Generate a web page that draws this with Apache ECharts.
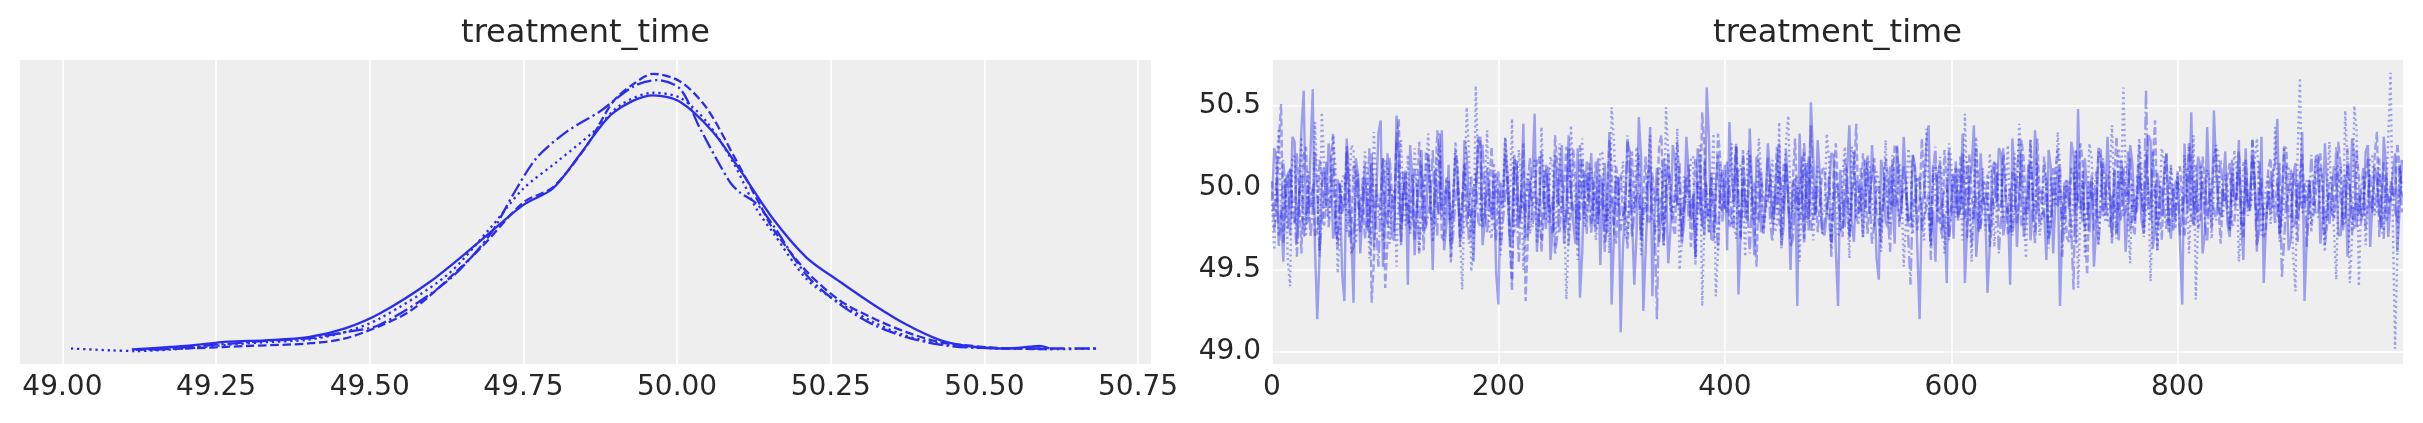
<!DOCTYPE html>
<html><head><meta charset="utf-8">
<script src="https://cdn.jsdelivr.net/npm/echarts@6/dist/echarts.min.js"></script>
<style>html,body{margin:0;padding:0;background:#fff}#c{width:2423px;height:423px}</style>
</head><body><div id="c"></div>
<script>
const varName = 'treatment_time';
const kdeTicks = [49.00, 49.25, 49.50, 49.75, 50.00, 50.25, 50.50, 50.75];
const traceXTicks = [0, 200, 400, 600, 800];
const traceYTicks = [49.0, 49.5, 50.0, 50.5];

// KDE curves per chain (x = treatment_time, y = density)
const kdeX0 = [49.113,49.20,49.27,49.33,49.40,49.46,49.517,49.598,49.679,49.750,49.798,49.842,49.896,49.961,50.004,50.058,50.102,50.156,50.211,50.265,50.319,50.373,50.428,50.482,50.536,50.575,50.590,50.606];
const kdeY0 = [0.013,0.04,0.074,0.085,0.11,0.18,0.30,0.55,0.87,1.16,1.29,1.56,1.89,2.03,1.98,1.74,1.44,1.05,0.74,0.55,0.37,0.21,0.087,0.034,0.02,0.035,0.04,0.02];
const kdeX1 = [49.12,49.20,49.30,49.40,49.46,49.517,49.56,49.598,49.679,49.750,49.798,49.853,49.896,49.929,49.961,50.005,50.048,50.091,50.135,50.156,50.211,50.265,50.319,50.373,50.428,50.482,50.536,50.61];
const kdeY1 = [0.01,0.02,0.04,0.06,0.10,0.20,0.30,0.44,0.81,1.18,1.30,1.63,1.98,2.12,2.20,2.14,1.93,1.56,1.16,0.97,0.63,0.40,0.26,0.15,0.07,0.04,0.02,0.015];
const kdeX2 = [49.014,49.08,49.12,49.20,49.27,49.33,49.40,49.46,49.517,49.625,49.695,49.750,49.804,49.864,49.907,49.961,50.005,50.048,50.091,50.129,50.156,50.211,50.265,50.319,50.373,50.428,50.482,50.55,50.62,50.686];
const kdeY2 = [0.02,0.005,0.0,0.02,0.05,0.07,0.09,0.15,0.26,0.60,0.97,1.29,1.50,1.74,1.95,2.05,2.01,1.82,1.50,1.13,0.94,0.57,0.38,0.23,0.12,0.06,0.03,0.02,0.015,0.02];
const kdeX3 = [49.15,49.25,49.33,49.40,49.46,49.517,49.625,49.695,49.733,49.771,49.820,49.874,49.929,49.967,50.005,50.037,50.086,50.102,50.129,50.156,50.211,50.265,50.319,50.373,50.428,50.482,50.59,50.686];
const kdeY3 = [0.01,0.05,0.08,0.10,0.15,0.21,0.55,0.92,1.24,1.53,1.74,1.90,2.10,2.15,2.08,1.77,1.34,1.26,1.17,1.00,0.60,0.37,0.21,0.11,0.05,0.026,0.02,0.02];

// Trace values per chain, read/.
// traceNa: draws 0,4,8,...,996   traceNb: draws 2,6,10,...,998
const trace0a = [
49.92,50.18,49.85,50.05,49.71,50.28,49.96,50.59,49.80,50.60,
49.20,50.02,49.90,50.12,49.78,49.99,49.31,50.04,49.30,50.08,
49.87,49.74,50.15,49.93,50.41,49.82,50.00,49.68,50.19,49.95,
49.41,50.06,49.89,50.23,49.76,49.97,50.11,49.84,49.62,50.14,
49.91,50.03,49.73,50.20,49.86,49.99,50.31,49.80,49.94,50.09,
49.29,49.88,50.07,49.79,50.16,49.92,49.70,50.04,50.45,49.85,
49.98,50.13,49.77,49.90,50.26,49.83,50.01,49.66,49.33,50.10,
49.94,49.81,50.18,49.97,49.72,49.29,50.06,49.12,49.89,50.22,
49.41,50.43,49.25,49.95,49.34,50.12,49.86,50.03,49.75,50.17,
49.90,49.78,50.09,49.96,50.24,49.82,50.61,49.69,50.00,49.88,
50.14,50.40,49.92,49.35,50.05,49.80,49.99,50.19,49.73,49.91,
50.08,49.85,50.27,49.77,49.96,50.02,49.28,49.94,50.15,50.52,
49.83,50.06,49.71,49.98,50.20,49.28,49.90,50.11,49.79,50.04,
49.93,50.17,49.84,50.00,49.44,50.09,49.76,49.95,50.25,49.87,
50.02,49.81,50.13,49.20,49.97,50.38,49.86,50.07,49.74,49.42,
49.99,50.16,49.88,49.42,50.04,50.38,49.78,49.95,49.36,50.10,
49.91,50.21,49.82,49.41,50.06,49.97,49.70,50.14,49.89,50.01,
49.84,49.56,50.12,49.93,49.28,50.03,49.87,50.19,50.48,49.79,
49.96,50.08,49.75,50.23,49.90,49.98,50.11,49.68,50.05,49.86,
50.15,49.92,49.80,50.02,50.29,49.77,49.99,50.09,49.83,49.94,
50.06,49.29,49.91,50.46,49.85,50.13,49.72,49.97,50.47,49.88,
50.01,49.78,50.17,49.93,49.81,50.24,49.96,50.07,49.74,49.42,
49.98,50.10,50.42,49.87,50.03,49.69,50.15,49.92,49.31,50.05,
49.89,50.20,49.80,50.00,49.94,50.12,49.71,50.08,49.85,50.18,
49.97,49.83,50.26,49.90,50.04,49.76,50.13,49.92,50.21,49.88];
const trace0b = [
50.24,49.71,49.55,50.08,50.31,49.66,50.36,49.78,50.22,49.62,
49.58,50.12,50.27,49.69,50.05,49.47,50.30,49.73,50.18,49.60,
50.15,49.80,49.64,50.33,49.52,50.21,49.70,50.44,49.67,50.09,
50.26,49.59,50.02,49.74,50.19,49.50,49.88,50.35,49.77,49.63,
50.20,49.69,50.29,49.83,49.55,50.25,49.65,50.12,49.81,49.48,
50.03,50.30,49.68,50.17,49.76,50.39,49.72,50.07,49.61,50.22,
49.75,49.56,50.20,50.09,49.66,50.32,49.79,50.24,49.60,50.04,
50.21,49.74,49.53,50.15,50.34,49.70,50.06,49.64,50.28,49.82,
49.72,50.19,49.61,50.37,49.84,49.67,50.18,49.54,50.26,49.90,
49.66,50.31,49.80,49.58,50.14,49.71,50.29,49.68,50.20,49.85,
49.62,50.06,50.25,49.73,49.83,50.36,49.59,50.16,49.77,50.27,
49.78,50.14,49.65,50.23,49.50,50.05,50.33,49.69,49.81,50.19,
50.29,49.73,49.84,50.21,49.62,50.11,49.76,50.38,49.67,50.02,
49.70,50.08,50.26,49.57,50.17,49.79,50.13,49.66,50.07,50.31,
49.80,50.20,49.63,49.89,50.27,49.72,49.55,50.15,49.84,50.23,
49.69,49.82,50.33,49.75,50.12,49.58,50.21,49.88,49.65,50.16,
50.24,49.71,49.90,50.30,49.64,50.19,49.81,49.68,50.35,49.78,
49.86,50.23,49.60,50.11,49.74,50.04,50.28,49.66,49.93,50.18,
49.73,49.52,50.24,49.85,50.31,49.70,49.92,50.17,49.61,50.26,
49.80,50.15,49.72,50.32,49.63,50.09,49.83,50.21,49.69,50.03,
49.67,50.27,49.86,49.77,50.19,49.60,50.37,49.75,50.10,49.82,
50.22,49.70,49.94,50.29,49.56,49.88,50.18,49.65,50.31,49.79,
49.84,50.14,49.72,50.24,49.62,50.07,49.81,50.34,49.69,49.93,
50.19,49.66,50.27,49.78,50.13,49.71,49.97,49.58,50.30,49.76,
49.83,50.22,49.64,50.12,49.85,50.31,49.70,50.09,49.61,50.17];
const trace1a = [
50.04,49.88,50.51,49.93,50.12,49.79,49.97,50.20,49.85,50.01,
49.74,50.09,49.92,50.16,49.83,50.03,49.95,49.70,50.13,49.90,
50.06,49.81,49.30,50.02,49.94,49.39,50.18,49.87,50.42,49.96,
49.78,50.08,49.91,50.00,50.22,49.84,49.97,50.11,49.68,50.05,
49.89,50.14,49.95,49.76,50.07,49.93,50.28,49.86,50.02,49.80,
50.10,49.92,49.99,49.37,50.15,49.88,49.31,50.04,49.96,50.19,
49.83,50.01,49.72,50.12,49.94,50.25,49.87,50.06,49.79,49.98,
50.16,49.90,49.82,50.03,49.95,50.13,49.66,50.08,49.92,50.00,
49.85,50.20,49.97,49.78,50.09,49.93,50.32,49.88,50.04,49.71,
50.02,49.94,50.14,49.86,49.99,50.46,49.81,50.07,49.90,50.17,
49.96,49.77,50.05,49.92,50.23,49.84,50.00,49.52,50.11,49.89,
50.08,49.95,49.80,50.15,49.91,50.03,49.86,50.19,49.97,49.74,
50.01,49.90,50.12,49.83,50.06,49.98,49.70,50.09,49.94,50.39,
49.85,50.04,49.92,50.18,49.79,49.96,50.07,49.88,50.26,49.93,
50.00,49.76,50.10,49.91,50.02,49.84,50.15,49.97,49.69,50.05,
49.93,50.12,49.87,49.99,50.21,49.81,50.03,49.95,50.08,49.78,
50.14,49.90,50.00,49.72,50.06,49.94,50.17,49.86,49.98,50.30,
49.89,50.03,49.80,50.11,49.95,50.01,49.67,50.09,49.92,50.16,
49.47,50.05,49.91,50.19,49.84,49.97,50.07,49.88,50.13,49.94,
49.79,50.02,49.95,50.22,49.87,50.41,49.90,50.06,49.73,50.00,
50.10,49.93,49.85,50.14,49.98,49.81,50.04,49.96,50.20,49.88,
49.99,50.08,49.77,50.01,49.92,50.17,49.86,50.03,49.95,49.70,
50.12,49.89,50.05,49.94,50.24,49.82,49.99,50.09,49.91,50.02,
49.84,50.15,49.96,49.78,50.07,49.93,50.11,49.87,50.00,49.75,
50.06,49.92,50.18,49.85,50.34,49.97,49.80,50.04,49.94,50.13];
const trace1b = [
49.74,50.27,49.66,50.08,49.80,50.21,49.60,50.25,49.89,49.70,
50.17,49.77,49.90,50.33,49.63,49.84,50.22,49.71,50.13,49.82,
49.69,50.24,49.56,49.88,50.18,49.67,49.95,50.30,49.75,50.11,
49.83,49.68,50.28,49.62,50.19,49.79,50.35,49.70,50.06,49.80,
50.23,49.64,50.14,49.87,49.72,50.31,49.76,49.97,50.25,49.68,
49.90,50.20,49.67,50.12,49.81,50.27,49.71,49.88,50.16,49.61,
50.14,49.79,50.32,49.73,49.96,49.65,50.24,49.83,50.18,49.72,
49.78,50.16,49.88,49.66,50.29,49.74,50.05,49.82,49.63,50.22,
50.07,49.71,50.19,49.80,49.92,50.26,49.69,50.13,49.77,50.28,
49.70,49.95,49.64,50.18,49.84,50.23,49.87,49.73,50.33,49.79,
50.16,49.76,50.27,49.68,49.93,50.20,49.80,50.09,49.72,49.91,
49.82,50.25,49.70,50.14,49.75,50.30,49.90,49.66,50.19,49.81,
49.73,50.11,49.86,49.63,50.27,49.77,50.17,49.71,50.04,49.84,
50.21,49.72,50.08,49.85,49.67,50.18,49.92,50.26,49.76,49.97,
49.80,50.20,49.74,50.30,49.87,49.65,50.14,49.79,50.23,49.70,
50.09,49.83,50.21,49.69,49.95,50.25,49.75,49.90,49.64,50.15,
49.86,50.24,49.72,50.10,49.78,50.29,49.84,50.17,49.73,49.96,
50.19,49.67,49.92,50.24,49.81,49.70,50.12,49.88,50.27,49.76,
49.94,49.74,50.22,49.83,50.08,49.66,50.31,49.80,49.95,50.18,
49.71,50.26,49.85,49.98,50.16,49.77,49.68,50.21,49.90,49.79,
50.13,49.70,50.28,49.88,49.75,50.19,49.82,49.97,50.24,49.66,
49.91,50.15,49.78,50.22,49.69,49.93,50.30,49.80,50.06,49.74,
50.18,49.86,49.71,50.25,49.83,50.09,49.67,50.20,49.92,49.78,
49.96,50.21,49.65,50.04,49.81,50.28,49.74,50.14,49.88,50.23,
49.78,50.06,49.89,50.20,49.70,50.16,49.83,49.96,50.27,49.85];
const trace2a = [
49.90,50.14,49.82,50.06,49.40,50.19,49.93,49.77,50.10,49.88,
50.02,50.46,49.85,49.97,50.13,49.71,50.08,49.91,50.24,49.80,
49.96,50.11,49.74,50.03,49.89,50.17,49.66,49.99,50.07,49.84,
50.20,49.92,50.01,49.78,50.12,49.95,49.87,50.26,49.81,50.04,
49.93,50.09,49.38,50.49,49.49,50.62,49.86,50.02,49.75,50.15,
49.90,49.99,50.11,50.42,49.83,50.06,49.94,49.72,50.18,49.88,
50.03,49.79,50.13,49.97,49.85,49.32,50.38,49.91,50.05,49.76,
50.10,49.95,49.82,50.21,49.93,50.49,49.87,50.00,49.69,50.08,
49.92,50.16,49.80,50.04,49.96,49.74,50.12,50.49,49.85,49.99,
49.50,50.07,49.91,50.19,49.83,49.28,50.02,49.95,49.34,50.14,
49.88,50.05,49.77,50.10,49.94,50.23,49.81,49.98,50.09,49.86,
50.01,49.73,50.40,49.92,50.44,49.85,50.06,49.97,49.79,50.15,
49.90,50.03,49.84,50.18,49.96,49.70,50.08,49.93,50.25,49.82,
50.00,49.89,50.12,49.76,50.05,49.95,49.87,50.20,49.91,50.02,
49.80,50.14,49.93,50.07,49.68,49.99,50.11,49.85,50.03,49.94,
50.17,49.82,49.97,50.45,49.88,50.04,49.75,50.12,49.92,50.00,
49.86,50.09,49.95,49.78,50.21,50.39,49.84,50.02,49.93,50.15,
49.81,49.98,50.07,49.90,50.13,49.72,50.04,49.95,49.39,50.10,
49.87,50.18,49.94,50.01,49.79,50.08,49.92,50.24,50.61,49.83,
50.05,49.96,50.12,49.88,49.43,50.03,49.91,50.16,49.77,49.99,
50.09,49.85,50.02,49.94,49.32,50.14,49.89,50.06,49.97,50.20,
49.82,50.00,49.93,50.11,49.76,50.04,49.88,50.17,49.95,49.84,
50.08,49.91,50.02,49.79,50.13,49.96,49.37,50.67,49.86,50.05,
49.94,50.10,49.83,50.01,49.90,49.44,50.15,50.47,49.42,50.50,
49.40,50.08,49.91,50.19,49.86,50.03,49.95,50.70,49.02,50.12];
const trace2b = [
49.62,50.36,49.88,49.55,50.19,49.76,50.31,49.70,49.97,50.40,
49.58,50.15,49.81,50.32,49.48,50.06,49.73,50.26,49.66,49.93,
50.22,49.57,50.34,49.80,49.68,50.12,49.91,49.52,50.29,49.77,
49.71,50.24,49.61,49.99,50.33,49.67,50.17,49.82,50.05,49.54,
50.28,49.75,49.92,50.21,49.63,50.14,49.79,50.35,49.69,49.98,
49.59,50.31,49.86,49.72,50.23,49.50,50.10,49.90,49.66,50.37,
49.80,50.19,49.64,50.27,49.87,49.71,50.08,49.56,50.30,49.83,
50.12,49.68,50.22,49.78,49.60,50.29,49.94,50.16,49.70,49.85,
50.25,49.59,49.97,50.32,49.74,50.11,49.65,50.20,49.86,50.36,
49.67,49.90,50.18,49.53,50.26,49.81,49.72,50.33,49.62,50.03,
49.85,50.27,49.69,50.14,49.58,50.21,49.83,50.30,49.71,49.96,
50.17,49.76,49.63,50.28,49.89,50.07,49.55,50.22,49.80,49.68,
50.13,49.84,50.33,49.66,50.02,49.75,50.25,49.57,50.18,49.87,
49.70,50.20,49.92,50.10,49.61,50.29,49.78,49.99,50.15,49.52,
50.24,49.72,50.06,49.83,50.36,49.65,49.91,50.19,49.60,50.27,
49.85,50.12,49.68,50.01,49.55,50.31,49.88,49.74,50.21,49.64,
50.09,49.79,50.26,49.73,49.96,50.17,49.57,50.29,49.86,49.71,
50.14,49.63,49.92,50.34,49.77,50.05,49.69,50.22,49.84,49.58,
50.27,49.88,49.66,50.15,49.82,50.38,49.72,49.98,50.10,49.54,
49.80,50.30,49.70,50.03,49.89,49.62,50.24,49.85,50.12,49.75,
49.93,50.20,49.60,50.32,49.79,49.98,50.11,49.69,50.26,49.84,
50.08,49.74,50.23,49.55,50.16,49.83,49.95,50.30,49.71,50.02,
49.78,50.37,49.67,49.92,50.13,49.58,50.24,49.85,50.05,49.73,
50.18,49.87,49.61,50.28,49.75,50.00,49.81,50.14,49.69,50.35,
49.91,49.65,50.19,49.83,50.09,49.74,50.31,49.79,49.59,50.02];
const trace3a = [
49.86,50.05,49.78,49.95,50.12,49.82,49.93,49.70,50.02,49.88,
49.97,49.80,50.16,49.91,49.75,50.03,49.87,49.98,49.64,50.08,
49.84,49.95,50.21,49.79,49.92,49.86,50.01,49.73,49.96,50.10,
49.90,49.81,49.99,50.14,49.77,49.93,49.85,50.34,49.88,49.97,
49.72,50.04,49.89,49.96,49.83,50.09,49.76,49.92,50.00,49.85,
49.94,49.80,50.07,49.43,49.91,49.98,49.82,50.18,49.87,49.76,
50.02,49.89,49.95,49.71,50.11,49.84,49.97,49.90,50.26,49.81,
49.93,50.05,49.78,49.99,49.86,49.94,50.13,49.74,49.88,50.01,
49.83,49.96,49.90,50.08,49.79,49.20,49.92,50.04,49.85,49.97,
50.15,49.87,49.80,49.95,50.03,49.75,49.91,50.09,49.84,49.98,
49.89,50.02,49.77,49.93,50.20,49.86,49.96,49.81,50.06,49.90,
49.79,49.97,50.11,49.85,49.92,49.69,50.00,49.88,49.95,50.38,
49.84,49.93,49.80,50.07,49.89,49.98,49.75,50.03,49.91,49.82,
50.12,49.87,49.95,49.78,50.01,49.90,49.84,50.16,49.93,49.86,
49.99,49.41,49.88,50.05,49.83,49.96,50.09,49.79,49.92,50.02,
49.86,49.94,50.19,49.81,49.97,49.88,49.73,50.04,49.90,49.96,
50.08,49.82,49.93,50.00,49.87,50.30,49.79,49.95,49.84,49.91,
49.98,50.06,49.77,49.92,50.13,49.85,49.96,49.38,49.89,50.03,
49.81,49.94,50.10,49.87,49.99,49.76,49.91,50.05,49.83,50.22,
49.90,49.85,49.97,50.60,49.80,49.93,50.01,49.86,49.95,49.74,
50.07,49.88,49.96,49.82,50.14,49.91,49.79,49.98,49.87,50.02,
49.93,49.84,50.09,49.95,49.78,50.04,49.89,49.97,50.17,49.83,
49.91,50.00,49.86,49.45,49.94,50.11,49.80,49.92,50.03,49.88,
49.97,49.82,50.06,49.90,49.85,50.25,49.93,49.78,50.01,49.89,
49.84,50.12,49.95,49.87,49.99,49.76,50.08,49.92,49.86,50.15];
const trace3b = [
49.87,49.64,50.17,49.75,49.93,49.58,50.08,49.82,49.70,50.22,
49.61,49.92,49.76,50.14,49.67,49.86,50.26,49.60,49.99,49.73,
50.06,49.69,49.88,49.52,50.18,49.78,49.94,50.30,49.65,49.89,
49.74,50.11,49.60,49.96,49.83,50.23,49.71,49.87,50.02,49.57,
49.92,49.77,50.15,49.66,49.98,49.80,50.27,49.72,49.85,50.09,
49.63,49.95,49.79,50.20,49.55,49.90,50.05,49.76,49.94,49.68,
50.12,49.83,49.59,49.99,49.74,50.24,49.86,49.66,49.95,50.16,
49.72,49.91,50.08,49.61,49.87,49.77,50.01,49.83,50.32,49.70,
49.97,49.68,49.85,50.13,49.78,49.94,49.64,50.21,49.81,49.89,
49.75,50.07,49.90,49.57,49.99,50.17,49.73,49.88,49.62,50.11,
49.85,49.76,50.26,49.70,49.93,49.60,50.03,49.79,49.96,50.19,
49.67,49.87,49.99,50.15,49.64,49.92,49.81,50.28,49.74,49.89,
50.01,49.72,49.85,49.58,50.10,49.83,49.95,49.69,50.22,49.78,
49.91,50.18,49.66,49.97,49.76,50.07,49.61,49.88,49.80,50.14,
49.70,49.93,50.05,49.74,49.87,49.56,50.25,49.82,49.98,49.68,
50.08,49.80,49.91,50.16,49.64,49.95,49.78,50.02,49.72,49.87,
49.60,50.20,49.84,49.71,50.06,49.77,49.93,50.30,49.66,49.97,
49.82,49.70,50.12,49.89,49.58,50.01,49.74,50.23,49.86,49.76,
50.04,49.90,49.65,50.18,49.81,49.96,49.69,50.10,49.85,49.73,
49.93,50.08,49.76,49.87,50.22,49.62,49.99,49.75,50.14,49.88,
49.71,49.95,50.25,49.78,49.85,50.04,49.67,49.91,49.80,50.17,
49.97,49.73,49.89,50.11,49.77,49.86,50.29,49.61,49.93,49.83,
50.06,49.78,50.15,49.68,49.95,49.75,50.03,49.88,49.64,50.20,
49.84,50.12,49.71,49.97,49.82,50.06,49.77,50.24,49.72,49.91,
49.98,49.75,50.08,49.86,50.18,49.69,49.92,50.01,49.79,49.94];

const drawStep = 4;   // spacing of the "a" draws; "b" draws sit halfway between

const COLOR = '#2a2eec';
const FONT = 'DejaVu Sans';
const TXT = '#262626';
const kdeTypes = ['solid', [8.5, 3.7], [2.3, 3.8], [14.7, 3.7, 2.3, 3.7]];
const traceTypes = ['solid', [7.4, 3.2], [2, 3.3], [12.8, 3.2, 2, 3.2]];

const kdeXs = [kdeX0, kdeX1, kdeX2, kdeX3];
const kdeYs = [kdeY0, kdeY1, kdeY2, kdeY3];
const tracesA = [trace0a, trace1a, trace2a, trace3a];
const tracesB = [trace0b, trace1b, trace2b, trace3b];

const series = [];
kdeXs.forEach((xs, c) => {
  series.push({
    type: 'line', xAxisIndex: 0, yAxisIndex: 0, symbol: 'none', smooth: 0.3,
    data: xs.map((x, i) => [x, kdeYs[c][i]]),
    lineStyle: { color: COLOR, width: 2.3, type: kdeTypes[c] }
  });
});
tracesA.forEach((a, c) => {
  const b = tracesB[c];
  const data = [];
  a.forEach((v, i) => {
    data.push([i * drawStep, v]);
    data.push([i * drawStep + drawStep / 2, b[i]]);
  });
  series.push({
    type: 'line', xAxisIndex: 1, yAxisIndex: 1, symbol: 'none',
    data: data,
    lineStyle: { color: COLOR, width: 2.4, opacity: 0.42, type: traceTypes[c] }
  });
});

const labelStyle = { fontFamily: FONT, fontSize: 28, color: TXT };
const split = { show: true, lineStyle: { color: '#ffffff', width: 1.6 } };

const option = {
  animation: false,
  textStyle: { fontFamily: FONT },
  grid: [
    { left: 20, top: 60, width: 1131, height: 304, show: true, backgroundColor: '#eeeeee', borderWidth: 0 },
    { left: 1272, top: 60, width: 1131, height: 304, show: true, backgroundColor: '#eeeeee', borderWidth: 0 }
  ],
  graphic: [
    { type: 'text', x: 585.5, y: 34, style: { text: varName, fontFamily: FONT, fontSize: 32, fill: TXT, align: 'center', verticalAlign: 'middle' } },
    { type: 'text', x: 1837.5, y: 34, style: { text: varName, fontFamily: FONT, fontSize: 32, fill: TXT, align: 'center', verticalAlign: 'middle' } }
  ],
  xAxis: [
    { type: 'value', gridIndex: 0, min: 48.931, max: 50.771,
      axisLine: { show: false }, axisTick: { show: false, customValues: kdeTicks },
      axisLabel: Object.assign({ customValues: kdeTicks, margin: 10, formatter: v => v.toFixed(2) }, labelStyle),
      splitLine: split },
    { type: 'value', gridIndex: 1, min: 0, max: 999,
      axisLine: { show: false }, axisTick: { show: false, customValues: traceXTicks },
      axisLabel: Object.assign({ customValues: traceXTicks, margin: 10, formatter: v => String(v) }, labelStyle),
      splitLine: split }
  ],
  yAxis: [
    { type: 'value', gridIndex: 0, min: -0.103, max: 2.31, show: false, splitLine: { show: false } },
    { type: 'value', gridIndex: 1, min: 48.927, max: 50.778,
      axisLine: { show: false }, axisTick: { show: false, customValues: traceYTicks },
      axisLabel: Object.assign({ customValues: traceYTicks, margin: 11, formatter: v => v.toFixed(1) }, labelStyle),
      splitLine: split }
  ],
  series: series
};

const chart = echarts.init(document.getElementById('c'), null, { renderer: 'canvas' });
chart.setOption(option);
</script>
</body></html>
